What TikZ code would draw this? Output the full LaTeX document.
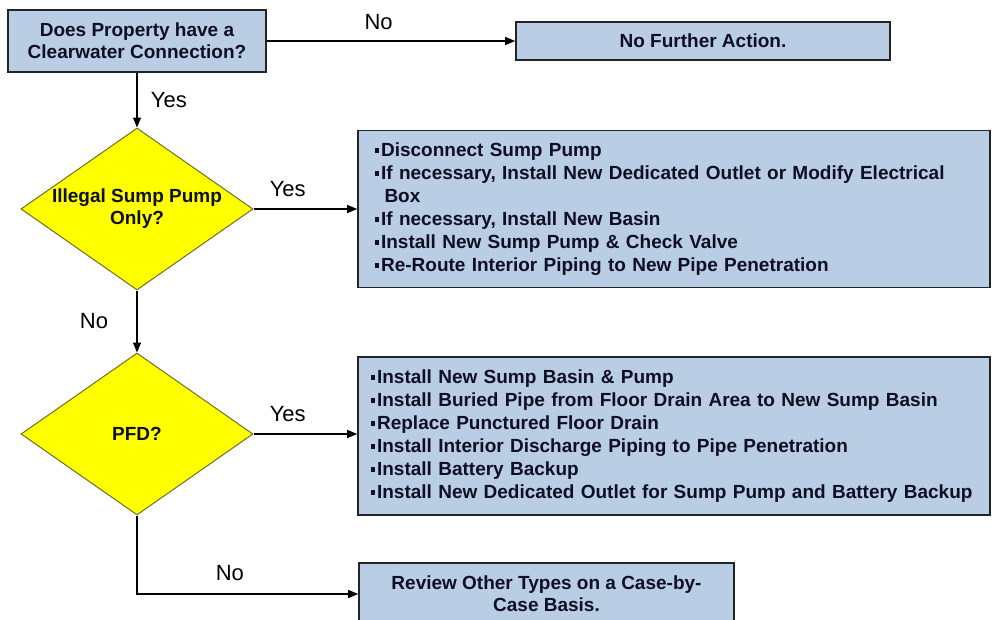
\documentclass[tikz,border=0pt]{standalone}
\usepackage{fontspec}
\setmainfont{Liberation Sans}
\usetikzlibrary{arrows.meta, shapes.geometric}
\definecolor{boxblue}{RGB}{185,205,229}
\definecolor{boxedge}{RGB}{35,35,40}
\definecolor{dmdyellow}{RGB}{255,255,0}
\definecolor{dmdedge}{RGB}{110,110,40}
\definecolor{txtdark}{RGB}{15,15,35}
\newcommand{\sqb}{\rule[0.2em]{0.22em}{0.22em}\hspace{0.1em}}

\tikzset{
    blk/.style={draw=boxedge, line width=1.6pt, fill=boxblue, inner sep=0pt, text=txtdark,
        font=\fontsize{19}{22}\selectfont\bfseries},
    lst/.style={blk, align=left, inner xsep=17pt, text width=598pt,
        font=\fontsize{19}{23}\selectfont\bfseries},
    dmd/.style={diamond, draw=dmdedge, line width=1pt, fill=dmdyellow, inner sep=0pt,
        shape aspect=1.43, minimum width=232pt, minimum height=162pt, align=center,
        text=txtdark, font=\fontsize{19}{22}\selectfont\bfseries},
    flow/.style={line width=1.3pt, -{Triangle[length=10pt,width=8pt]}},
    lbl/.style={font=\fontsize{22}{24}\selectfont, text=black}
}

\begin{document}
\begin{tikzpicture}[x=1pt, y=-1pt]
    \useasboundingbox (0,0) rectangle (992,619);

    \node[blk, align=center, minimum width=258pt, minimum height=62pt] (q1) at (137,41) {Does Property have a\\Clearwater Connection?};
    \node[blk, minimum width=374pt, minimum height=38pt] (act0) at (703,41) {No Further Action.};
    \node[dmd] (d1) at (137,209) {Illegal Sump Pump\\Only?};
    \node[lst, minimum height=157pt] (act1) at (674,209) {\sqb Disconnect Sump Pump\\
        \sqb If necessary, Install New Dedicated Outlet or Modify Electrical\\
        \hspace*{0.5em}Box\\
        \sqb If necessary, Install New Basin\\
        \sqb Install New Sump Pump \& Check Valve\\
        \sqb Re-Route Interior Piping to New Pipe Penetration};
    \node[dmd] (d2) at (137,434) {PFD?};
    \node[lst, inner xsep=13pt, text width=606pt, minimum height=158pt] (act2) at (674,436) {\sqb Install New Sump Basin \& Pump\\
        \sqb Install Buried Pipe from Floor Drain Area to New Sump Basin\\
        \sqb Replace Punctured Floor Drain\\
        \sqb Install Interior Discharge Piping to Pipe Penetration\\
        \sqb Install Battery Backup\\
        \sqb Install New Dedicated Outlet for Sump Pump and Battery Backup};
    \node[blk, align=center, minimum width=375pt, minimum height=62pt] (act3) at (546.5,594) {Review Other Types on a Case-by-\\Case Basis.};

    \draw[flow] (q1) -- node[lbl, above=7pt, pos=0.45]{No} (act0);
    \draw[flow] (q1) -- node[lbl, right=10pt]{Yes} (d1);
    \draw[flow] (d1) -- node[lbl, above=8pt, pos=0.33]{Yes} (act1);
    \draw[flow] (d1) -- node[lbl, left=25pt]{No} (d2);
    \draw[flow] (d2) -- node[lbl, above=8pt, pos=0.33]{Yes} (d2 -| act2.west);
    \draw[flow] (d2) |- node[lbl, above=9pt, pos=0.71]{No} (act3);
\end{tikzpicture}
\end{document}
